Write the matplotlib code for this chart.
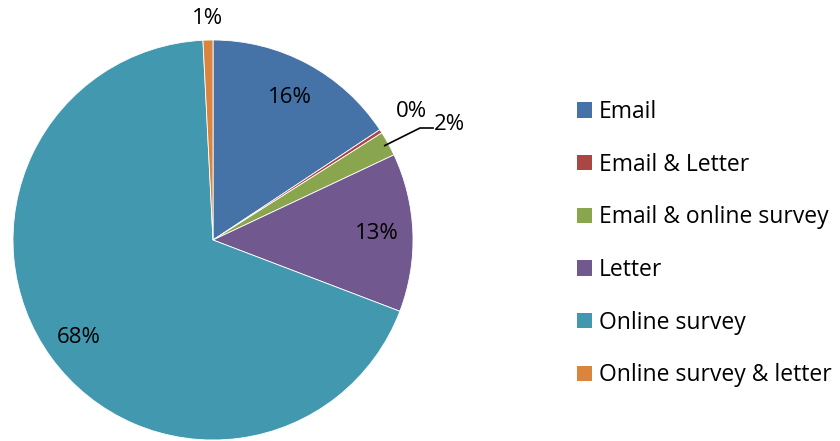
import numpy as np
import matplotlib.pyplot as plt
from matplotlib.patches import Patch

plt.rcParams['font.family'] = ['Open Sans', 'DejaVu Sans']

labels = ['Email', 'Email & Letter', 'Email & online survey', 'Letter',
          'Online survey', 'Online survey & letter']
values = [15.7, 0.3, 2.0, 12.8, 68.4, 0.8]
colors = ['#4572A7', '#AA4643', '#89A54E', '#71588F', '#4198AF', '#DB843D']

fig = plt.figure(figsize=(8.4, 4.41), dpi=100)
ax = fig.add_axes([13 / 840, 1 / 441, 400 / 840, 400 / 441])

wedges, _ = ax.pie(values, colors=colors, startangle=90, counterclock=False,
                   radius=1.0, wedgeprops=dict(linewidth=0.6, edgecolor='white'))
ax.set_xlim(-1, 1)
ax.set_ylim(-1, 1)
ax.set_aspect('equal')
ax.axis('off')

total = sum(values)
# radial distance for each label (small slices sit outside)
label_r = [0.81, 1.18, 1.0, 0.82, 0.83, 1.11]
for i, w in enumerate(wedges):
    pct = '{:.0f}%'.format(values[i] / total * 100)
    mid = np.deg2rad((w.theta1 + w.theta2) / 2)
    if labels[i] == 'Email & online survey':
        # leader line out to the right
        x0, y0 = np.cos(mid), np.sin(mid)
        ax.plot([x0 * 0.98, 1.035, 1.1], [y0 * 0.98, 0.56, 0.56],
                color='black', lw=1.2, clip_on=False)
        ax.text(1.105, 0.58, pct, ha='left', va='center', fontsize=16)
        continue
    r = label_r[i]
    ax.text(r * np.cos(mid), r * np.sin(mid), pct, ha='center', va='center',
            fontsize=16)

handles = [Patch(facecolor=c, edgecolor='none') for c in colors]
fig.legend(handles, labels, loc='upper left', bbox_to_anchor=(568 / 840, 1 - 91 / 441),
           frameon=False, fontsize=16.5, handlelength=0.65, handleheight=0.65,
           handletextpad=0.3, labelspacing=1.25, borderaxespad=0)

fig.savefig('out.png', dpi=100)
